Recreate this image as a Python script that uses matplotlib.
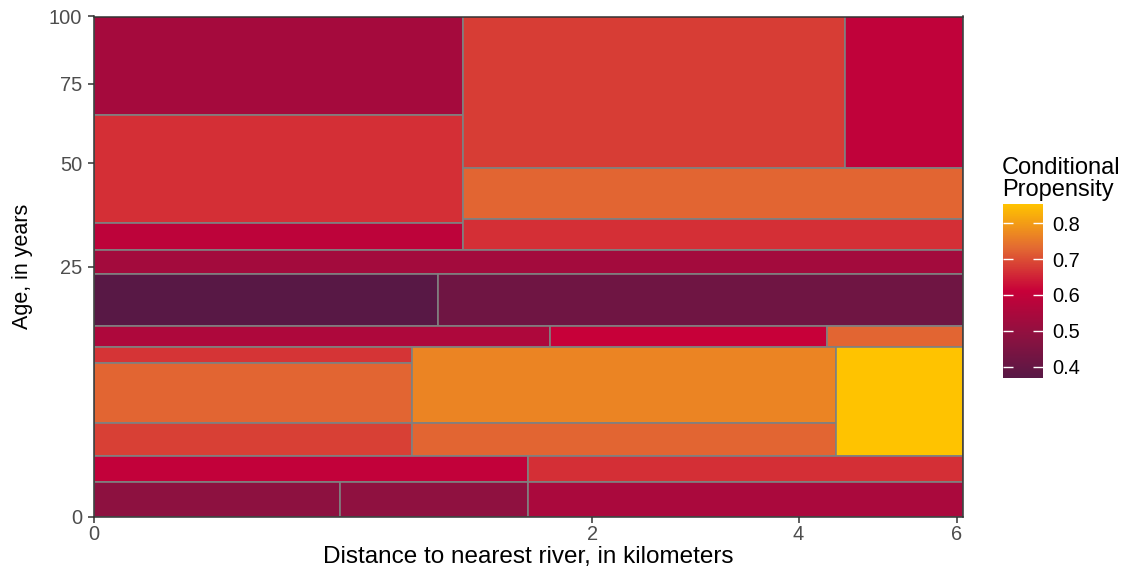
import numpy as np
import matplotlib
matplotlib.use('Agg')
import matplotlib.pyplot as plt
from matplotlib.colors import LinearSegmentedColormap, Normalize
from matplotlib.cm import ScalarMappable

plt.rcParams['font.family'] = ['Liberation Sans', 'DejaVu Sans']

# partition cells: distance bounds (km), age bounds (years), conditional propensity
x_max = 6.08
dist_lo = [0, 0, 0, 1.10, 4.55, 1.10, 1.10, 0, 0, 0.955, 0, 1.675, 4.33,
           0, 0, 0, 0.814, 0.814, 4.44, 0, 1.519, 0, 0.487, 1.519]
dist_hi = [1.10, 1.10, 1.10, 4.55, x_max, x_max, x_max, x_max, 0.955, x_max, 1.675, 4.33, x_max,
           0.814, 0.814, 0.814, 4.44, 4.44, x_max, 1.519, x_max, 0.487, 1.519, x_max]
age_lo = [64.5, 34.5, 28.5, 48.5, 48.5, 35.5, 28.5, 23.5, 14.5, 14.5, 11.5, 11.5, 11.5,
          9.5, 3.5, 1.5, 3.5, 1.5, 1.5, 0.5, 0.5, 0, 0, 0]
age_hi = [100, 64.5, 34.5, 100, 100, 48.5, 35.5, 28.5, 23.5, 23.5, 14.5, 14.5, 14.5,
          11.5, 9.5, 3.5, 11.5, 3.5, 11.5, 1.5, 1.5, 0.5, 0.5, 0.5]
propensity = [0.537, 0.665, 0.59, 0.68, 0.595, 0.725, 0.665, 0.535, 0.368, 0.42, 0.557, 0.61, 0.725,
              0.67, 0.725, 0.685, 0.768, 0.725, 0.854, 0.60, 0.665, 0.485, 0.49, 0.55]

x_ticks = [0, 2, 4, 6]
y_ticks = [0, 25, 50, 75, 100]
cbar_ticks = [0.4, 0.5, 0.6, 0.7, 0.8]

cmap = LinearSegmentedColormap.from_list(
    'prop', ['#581845', '#8F1140', '#C70039', '#E36A32', '#FFC300'])
norm = Normalize(vmin=min(propensity), vmax=max(propensity))

W, H = 1136, 571
fig = plt.figure(figsize=(W / 100, H / 100), dpi=100)
ax = fig.add_axes([94 / W, 1 - 517 / H, (962.7 - 94) / W, (517 - 16.5) / H])

sqrt_fn = (lambda v: np.sqrt(np.clip(v, 0, None)), np.square)
ax.set_xscale('function', functions=sqrt_fn)
ax.set_yscale('function', functions=sqrt_fn)

widths = np.array(dist_hi) - np.array(dist_lo)
heights = np.array(age_hi) - np.array(age_lo)
ax.bar(dist_lo, heights, width=widths, bottom=age_lo, align='edge',
       color=cmap(norm(np.array(propensity))), edgecolor='#808080', linewidth=1.2)

ax.set_xlim(0, x_max)
ax.set_ylim(0, 100)
ax.set_xticks(x_ticks)
ax.set_xticklabels([str(t) for t in x_ticks])
ax.set_yticks(y_ticks)
ax.set_yticklabels([str(t) for t in y_ticks])
ax.minorticks_off()
ax.tick_params(length=4, width=1.1, color='#333333', labelcolor='#4D4D4D', labelsize=14.4)
ax.tick_params(axis='x', pad=2)
ax.tick_params(axis='y', pad=4.5)
for s in ax.spines.values():
    s.set_color('#333333')
    s.set_linewidth(1.1)

ax.set_xlabel('Distance to nearest river, in kilometers', fontsize=17.5)
ax.xaxis.set_label_coords(0.5, (517 - 546) / 500.5)
ax.set_ylabel('Age, in years', fontsize=15.5)
ax.yaxis.set_label_coords((33 - 94) / 868.7, 0.5)

# colour bar legend
cax = fig.add_axes([1003 / W, 1 - 378 / H, 40 / W, 174 / H])
cb = fig.colorbar(ScalarMappable(norm=norm, cmap=cmap), cax=cax, ticks=cbar_ticks)
cb.outline.set_visible(False)
cax.tick_params(direction='in', length=7, width=1, color='white', left=True, right=True,
                labelcolor='black', labelsize=14.4, pad=7)
cax.set_yticklabels([f'{t:.1f}' for t in cbar_ticks])
fig.text(1002 / W, 1 - 157 / H, 'Conditional\nPropensity', fontsize=17, va='top', ha='left',
         linespacing=1.0)

fig.savefig('out.png', dpi=100)
